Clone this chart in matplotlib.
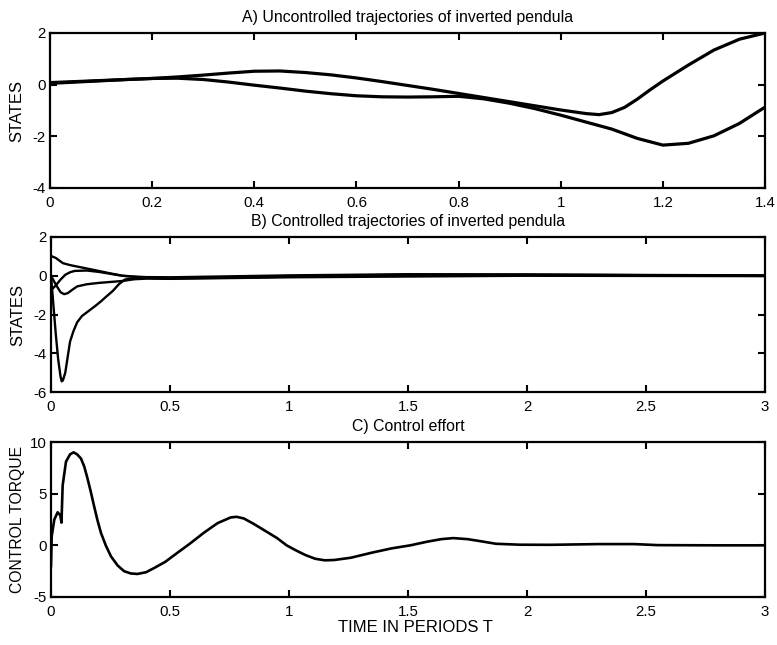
import matplotlib
matplotlib.use("Agg")
import matplotlib.pyplot as plt

# ---------------- Data ----------------
# Panel A: uncontrolled trajectories
tA1 = [0, 0.05, 0.1, 0.15, 0.2, 0.25, 0.3, 0.35, 0.4, 0.45, 0.5, 0.55, 0.6, 0.65, 0.7, 0.75,
       0.8, 0.85, 0.9, 0.95, 1.0, 1.05, 1.075, 1.1, 1.125, 1.15, 1.175, 1.2, 1.25, 1.3, 1.35, 1.4]
yA1 = [0.08, 0.12, 0.16, 0.2, 0.24, 0.3, 0.37, 0.45, 0.52, 0.53, 0.47, 0.38, 0.26, 0.12, -0.03, -0.18,
       -0.34, -0.5, -0.66, -0.82, -0.98, -1.12, -1.16, -1.08, -0.88, -0.56, -0.2, 0.14, 0.76, 1.34, 1.76, 2.0]
tA2 = [0, 0.05, 0.1, 0.15, 0.2, 0.25, 0.3, 0.35, 0.4, 0.45, 0.5, 0.55, 0.6, 0.65, 0.7, 0.75,
       0.8, 0.85, 0.9, 0.95, 1.0, 1.05, 1.1, 1.15, 1.2, 1.25, 1.3, 1.35, 1.4]
yA2 = [0.05, 0.1, 0.15, 0.2, 0.24, 0.25, 0.2, 0.1, -0.02, -0.13, -0.25, -0.35, -0.43, -0.47, -0.48, -0.47,
       -0.45, -0.55, -0.72, -0.93, -1.18, -1.45, -1.72, -2.08, -2.34, -2.27, -1.98, -1.5, -0.87]

# Panel B: controlled trajectories
tB1 = [0, 0.02, 0.05, 0.08, 0.12, 0.16, 0.2, 0.25, 0.3, 0.35, 0.4, 0.5, 0.75, 1.0, 1.5, 2.0, 2.5, 3.0]
yB1 = [1.02, 0.92, 0.65, 0.55, 0.45, 0.35, 0.25, 0.12, 0.0, -0.04, -0.07, -0.08, -0.03, 0.02, 0.08, 0.07, 0.04, 0.02]
tB2 = [0, 0.02, 0.04, 0.06, 0.08, 0.1, 0.15, 0.2, 0.25, 0.3, 0.35, 0.4, 0.5, 0.75, 1.0, 1.5, 2.0, 2.5, 3.0]
yB2 = [-0.75, -0.5, -0.2, 0.05, 0.18, 0.25, 0.27, 0.2, 0.1, 0.0, -0.06, -0.1, -0.11, -0.07, -0.02, 0.05, 0.05, 0.03, 0.0]
tB3 = [0, 0.02, 0.04, 0.055, 0.07, 0.09, 0.11, 0.15, 0.2, 0.25, 0.3, 0.35, 0.4, 0.5, 0.75, 1.0, 1.5, 2.0, 2.5, 3.0]
yB3 = [0.0, -0.45, -0.85, -0.95, -0.9, -0.72, -0.55, -0.44, -0.37, -0.32, -0.27, -0.18, -0.15, -0.16, -0.12, -0.08, -0.04, 0.0, -0.01, -0.02]
tB4 = [0, 0.01, 0.02, 0.03, 0.04, 0.045, 0.05, 0.06, 0.07, 0.08, 0.094, 0.11, 0.13, 0.16, 0.185,
       0.21, 0.23, 0.26, 0.285, 0.31, 0.35, 0.4, 0.5, 0.75, 1.0, 1.5, 2.0, 2.5, 3.0]
yB4 = [0.0, -1.5, -3.0, -4.3, -5.2, -5.45, -5.4, -5.0, -4.2, -3.4, -2.87, -2.4, -2.08, -1.8, -1.57,
       -1.32, -1.1, -0.78, -0.44, -0.2, -0.12, -0.1, -0.13, -0.1, -0.05, 0.02, 0.03, 0.01, 0.0]

# Panel C: control effort
tC = [0, 0.003, 0.014, 0.028, 0.039, 0.044, 0.049, 0.063, 0.08, 0.095, 0.11, 0.126, 0.14, 0.153,
      0.167, 0.181, 0.195, 0.21, 0.23, 0.252, 0.28, 0.307, 0.335, 0.363, 0.4, 0.433, 0.48, 0.53,
      0.58, 0.643, 0.7, 0.755, 0.78, 0.81, 0.85, 0.9, 0.95, 0.99, 1.03, 1.07, 1.11, 1.15, 1.19,
      1.26, 1.35, 1.43, 1.51, 1.58, 1.64, 1.69, 1.75, 1.81, 1.87, 1.97, 2.1, 2.3, 2.45, 2.55, 2.8, 3.0]
yC = [-2.0, 0.9, 2.5, 3.2, 2.9, 2.2, 5.8, 8.1, 8.8, 9.0, 8.8, 8.4, 7.6, 6.5,
      5.2, 3.8, 2.45, 1.2, 0.0, -1.07, -1.95, -2.5, -2.72, -2.77, -2.6, -2.2, -1.6, -0.74,
      0.1, 1.23, 2.15, 2.7, 2.76, 2.6, 2.1, 1.4, 0.7, 0.0, -0.5, -0.95, -1.3, -1.45, -1.42,
      -1.2, -0.7, -0.3, 0.0, 0.35, 0.6, 0.7, 0.6, 0.38, 0.15, 0.06, 0.05, 0.12, 0.12, 0.02, 0.0, 0.0]

titles = ["A) Uncontrolled trajectories of inverted pendula",
          "B) Controlled trajectories of inverted pendula",
          "C) Control effort"]
ylabels = ["STATES", "STATES", "CONTROL TORQUE"]
xlabel = "TIME IN PERIODS T"

xticksA = [0, 0.2, 0.4, 0.6, 0.8, 1, 1.2, 1.4]
xticksA_lbl = ["0", "0.2", "0.4", "0.6", "0.8", "1", "1.2", "1.4"]
yticksA = [-4, -2, 0, 2]
xticksBC = [0, 0.5, 1, 1.5, 2, 2.5, 3]
xticksBC_lbl = ["0", "0.5", "1", "1.5", "2", "2.5", "3"]
yticksB = [-6, -4, -2, 0, 2]
yticksC = [-5, 0, 5, 10]

# ---------------- Figure ----------------
plt.rcParams['font.family'] = ['Liberation Sans', 'DejaVu Sans']
W, H = 777, 645
fig = plt.figure(figsize=(W / 100, H / 100), dpi=100)

def box(l, t, r, b):
    return [l / W, 1 - b / H, (r - l) / W, (b - t) / H]

axA = fig.add_axes(box(50, 33, 765, 188))
axB = fig.add_axes(box(51, 237, 765, 392))
axC = fig.add_axes(box(51, 442, 765, 597))

def style(ax, xt, xtl, yt, xlim, ylim, title, ylabel, ylsize):
    ax.set_xlim(*xlim)
    ax.set_ylim(*ylim)
    ax.set_xticks(xt)
    ax.set_xticklabels(xtl)
    ax.set_yticks(yt)
    ax.set_yticklabels([str(v) for v in yt])
    ax.tick_params(direction='in', length=5, width=1.5, top=True, right=True,
                   labelsize=10.8)
    ax.tick_params(axis='x', pad=6)
    ax.tick_params(axis='y', pad=3)
    for s in ax.spines.values():
        s.set_linewidth(1.6)
    ax.set_title(title, pad=8, fontsize=11.4)
    ax.set_ylabel(ylabel, fontsize=ylsize)
    ax.yaxis.set_label_coords(-0.036, 0.5)

axA.plot(tA1, yA1, color='black', lw=2.3)
axA.plot(tA2, yA2, color='black', lw=2.3)
style(axA, xticksA, xticksA_lbl, yticksA, (0, 1.4), (-4, 2), titles[0], ylabels[0], 12)

for t, y in [(tB1, yB1), (tB2, yB2), (tB3, yB3), (tB4, yB4)]:
    axB.plot(t, y, color='black', lw=1.7)
style(axB, xticksBC, xticksBC_lbl, yticksB, (0, 3), (-6, 2), titles[1], ylabels[1], 12)

axC.plot(tC, yC, color='black', lw=1.9)
style(axC, xticksBC, xticksBC_lbl, yticksC, (0, 3), (-5, 10), titles[2], ylabels[2], 11.3)
axC.set_xlabel(xlabel, fontsize=12)
axC.xaxis.set_label_coords(0.51, -0.15)

fig.savefig("out.png", dpi=100)
